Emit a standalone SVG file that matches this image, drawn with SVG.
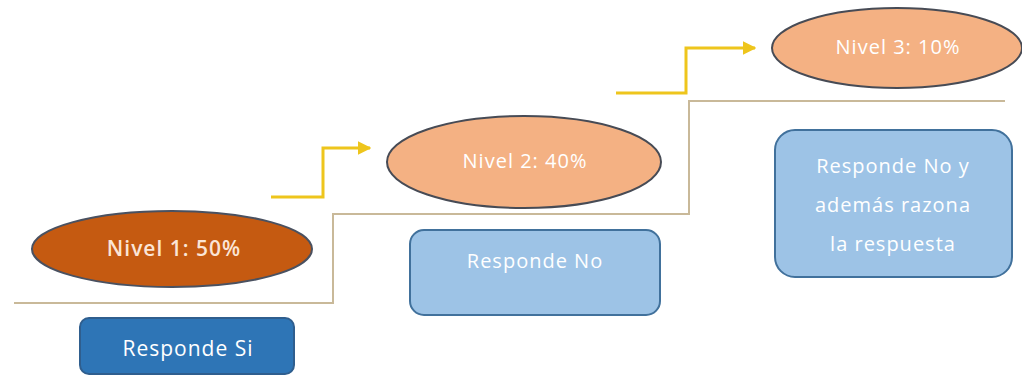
<svg xmlns="http://www.w3.org/2000/svg" width="1022" height="378" viewBox="0 0 1022 378">
<defs>
<style>
.lvl1{fill:#C55A11;stroke:#4A5160;stroke-width:2}
.lvl{fill:#F4B183;stroke:#474B55;stroke-width:2}
.dark{fill:#2E75B6;stroke:#2F5E8E;stroke-width:2}
.light{fill:#9DC3E6;stroke:#41719C;stroke-width:2}
text{font-family:"Open Sans","Liberation Sans",sans-serif;text-anchor:middle;letter-spacing:1px}
.t1{fill:#FBE5D6;font-size:21px;font-weight:600}
.tw{fill:#FFFFFF;font-size:20px}
.step{fill:none;stroke:#C9B999;stroke-width:2}
.arr{fill:none;stroke:#EEC51C;stroke-width:3}
</style>
<marker id="ah" viewBox="0 0 10 10" refX="9" refY="5" markerWidth="4.5" markerHeight="4.5" orient="auto">
<path d="M0,0 L10,5 L0,10 z" fill="#EEC51C"/>
</marker>
</defs>
<rect width="1022" height="378" fill="#FFFFFF"/>
<g id="connectors">
<polyline class="step" points="14,303 333,303 333,214 689,214 689,101 1005,101"/>
<polyline class="arr" points="271,197 323,197 323,148 370,148" marker-end="url(#ah)"/>
<polyline class="arr" points="616,93 686,93 686,48 755,48" marker-end="url(#ah)"/>
</g>
<g id="nivel1">
<ellipse class="lvl1" cx="172" cy="249" rx="140" ry="38"/>
<text class="t1" x="174" y="256">Nivel 1: 50%</text>
</g>
<g id="nivel2">
<ellipse class="lvl" cx="524" cy="162" rx="137" ry="46"/>
<text class="tw" x="525" y="168">Nivel 2: 40%</text>
</g>
<g id="nivel3">
<ellipse class="lvl" cx="897" cy="48" rx="125" ry="40"/>
<text class="tw" x="898" y="54">Nivel 3: 10%</text>
</g>
<g id="resp-si">
<rect class="dark" x="80" y="318" width="214" height="56" rx="9"/>
<text class="tw" x="188" y="356" style="font-size:21px">Responde Si</text>
</g>
<g id="resp-no">
<rect class="light" x="410" y="230" width="250" height="85" rx="14"/>
<text class="tw" x="535" y="268">Responde No</text>
</g>
<g id="resp-no-razona">
<rect class="light" x="775" y="130" width="237" height="147" rx="20"/>
<text class="tw" x="893" y="173">Responde No y</text>
<text class="tw" x="893" y="212">además razona</text>
<text class="tw" x="893" y="251">la respuesta</text>
</g>
</svg>
